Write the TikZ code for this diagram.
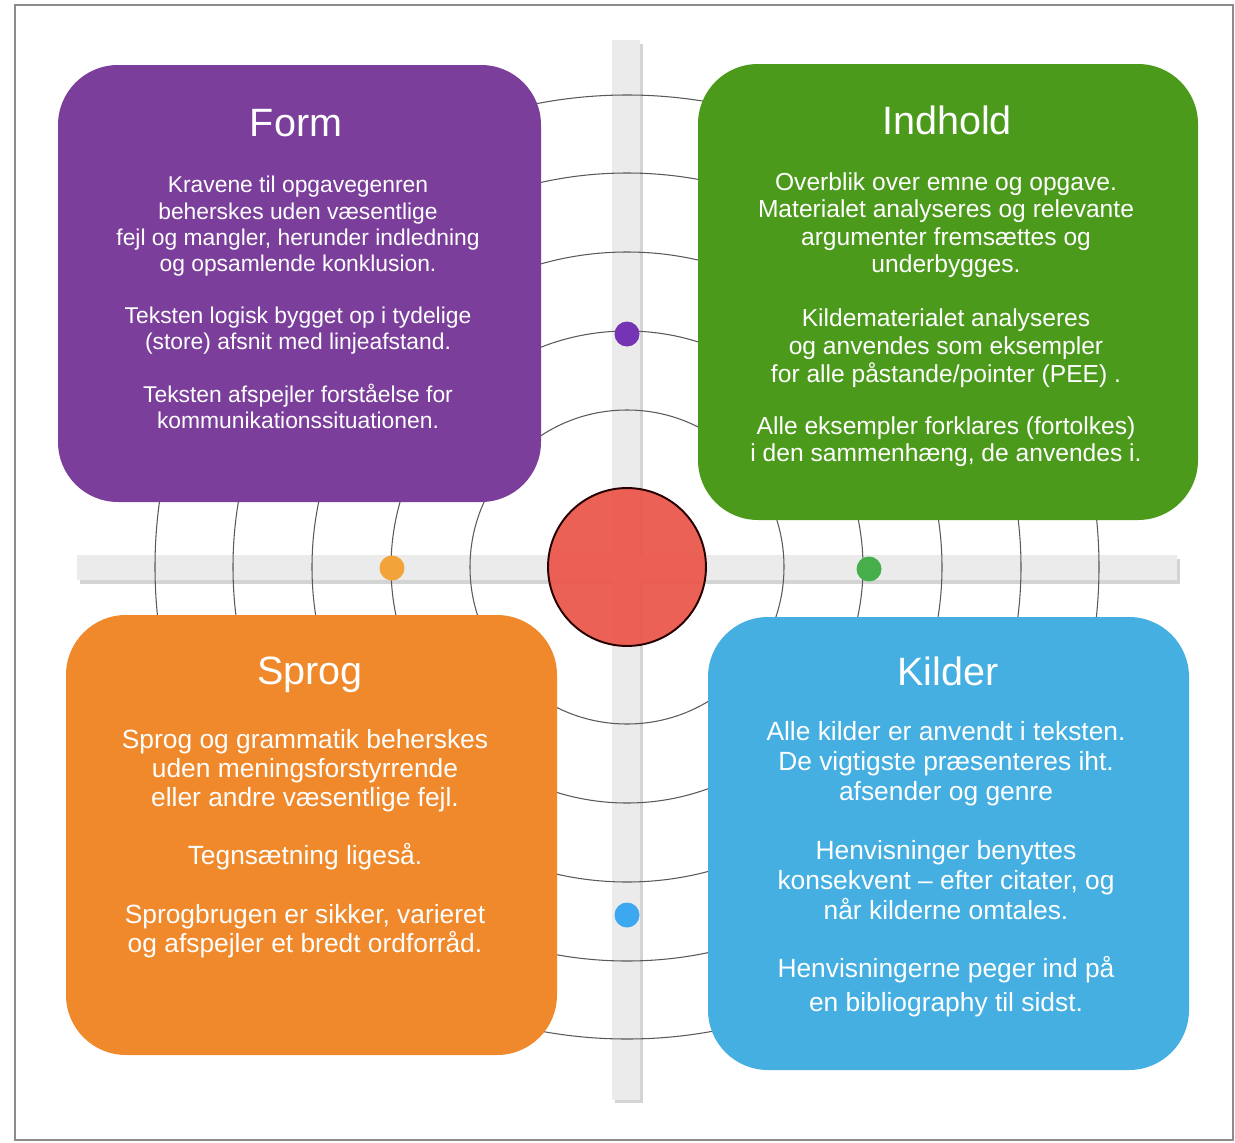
\documentclass[tikz,border=0pt]{standalone}
\usepackage{fontspec}
\setmainfont{Liberation Sans}
\usepackage{tikz}
\tikzset{>=latex}
\usepackage{xcolor}
\definecolor{formcol}{HTML}{7B3F9B}
\definecolor{indcol}{HTML}{4C9A1C}
\definecolor{sprogcol}{HTML}{F0892C}
\definecolor{kildecol}{HTML}{45AFE2}
\definecolor{hubcol}{HTML}{EB5549}
\definecolor{formdot}{HTML}{7434B4}
\definecolor{sprogdot}{HTML}{F2A43A}
\definecolor{inddot}{HTML}{46AF4B}
\definecolor{kildedot}{HTML}{3CA8EF}
\colorlet{barcol}{black!8}
\colorlet{barshade}{black!17}

\tikzset{
    card/.style={rounded corners=1.2cm},
    cardtitle/.style={text=white, anchor=base, inner sep=0pt, font=\fontsize{22.5}{27}\selectfont},
    cardtext/.style={text=white, anchor=north, align=center, inner sep=0pt},
    ring/.style={black!65, line width=0.6pt},
    dot/.style={circle, inner sep=0pt, minimum size=0.5cm},
}

\begin{document}
\begin{tikzpicture}[x=0.02cm, y=-0.02cm]
    \useasboundingbox (0, 0) rectangle (1235, 1143);
    \fill[white] (0, 0) rectangle (1235, 1143);
    \draw[black!45, line width=0.7pt] (15, 5) rectangle (1233, 1140);

    % the two axes, with a soft edge
    \fill[barshade] (80, 559) rectangle (1180, 584);
    \fill[barshade] (615, 44) rectangle (643, 1103);
    \fill[barcol] (77, 555) rectangle (1177, 580);
    \fill[barcol] (612, 40) rectangle (640, 1100);

    \coordinate (mid) at (627, 567);
    \foreach \r in {157, 236, 315, 394, 472}
        \draw[ring] (mid) circle[radius=\r];

    \begin{scope}
        \fill[card, formcol] (58, 65) rectangle (541, 502);
        \node[cardtitle] (formtitle) at (296, 136) {Form};
        \node[cardtext, font=\fontsize{13}{14.9}\selectfont] (formtext) at (298, 176) {%
            Kravene til opgavegenren\\
            beherskes uden væsentlige\\
            fejl og mangler, herunder indledning\\
            og opsamlende konklusion.\\[14.9pt]
            Teksten logisk bygget op i tydelige\\
            (store) afsnit med linjeafstand.\\[14.9pt]
            Teksten afspejler forståelse for\\
            kommunikationssituationen.};
    \end{scope}

    \begin{scope}
        \fill[card, indcol] (698, 64) rectangle (1198, 520);
        \node[cardtitle] (indtitle) at (947, 134) {Indhold};
        \node[cardtext, font=\fontsize{14}{15.7}\selectfont] (indtext) at (946, 172) {%
            Overblik over emne og opgave.\\
            Materialet analyseres og relevante\\
            argumenter fremsættes og\\
            underbygges.\\[15pt]
            Kildematerialet analyseres\\
            og anvendes som eksempler\\
            for alle påstande/pointer (PEE) .\\[14pt]
            Alle eksempler forklares (fortolkes)\\
            i den sammenhæng, de anvendes i.};
    \end{scope}

    \begin{scope}
        \fill[card, sprogcol] (66, 615) rectangle (557, 1055);
        \node[cardtitle] (sprogtitle) at (310, 684) {Sprog};
        \node[cardtext, font=\fontsize{15}{16.5}\selectfont] (sprogtext) at (305, 729) {%
            Sprog og grammatik beherskes\\
            uden meningsforstyrrende\\
            eller andre væsentlige fejl.\\[16.5pt]
            Tegnsætning ligeså.\\[17pt]
            Sprogbrugen er sikker, varieret\\
            og afspejler et bredt ordforråd.};
    \end{scope}

    \begin{scope}
        \fill[card, kildecol] (708, 617) rectangle (1189, 1070);
        \node[cardtitle] (kildetitle) at (948, 685) {Kilder};
        \node[cardtext, font=\fontsize{15}{17}\selectfont] (kildetext) at (946, 721) {%
            Alle kilder er anvendt i teksten.\\
            De vigtigste præsenteres iht.\\
            afsender og genre\\[17pt]
            Henvisninger benyttes\\
            konsekvent – efter citater, og\\
            når kilderne omtales.\\[16pt]
            Henvisningerne peger ind på\\[2.5pt]
            en bibliography til sidst.};
    \end{scope}

    \node[circle, fill=hubcol, fill opacity=0.93, draw=black!85!red, line width=1.1pt,
        minimum size=3.16cm, inner sep=0pt] (hub) at (mid) {};
    \node[dot, fill=formdot] (formmark) at (627, 334) {};
    \node[dot, fill=sprogdot] (sprogmark) at (392, 568) {};
    \node[dot, fill=inddot] (indmark) at (869, 569) {};
    \node[dot, fill=kildedot] (kildemark) at (627, 915) {};
\end{tikzpicture}
\end{document}
